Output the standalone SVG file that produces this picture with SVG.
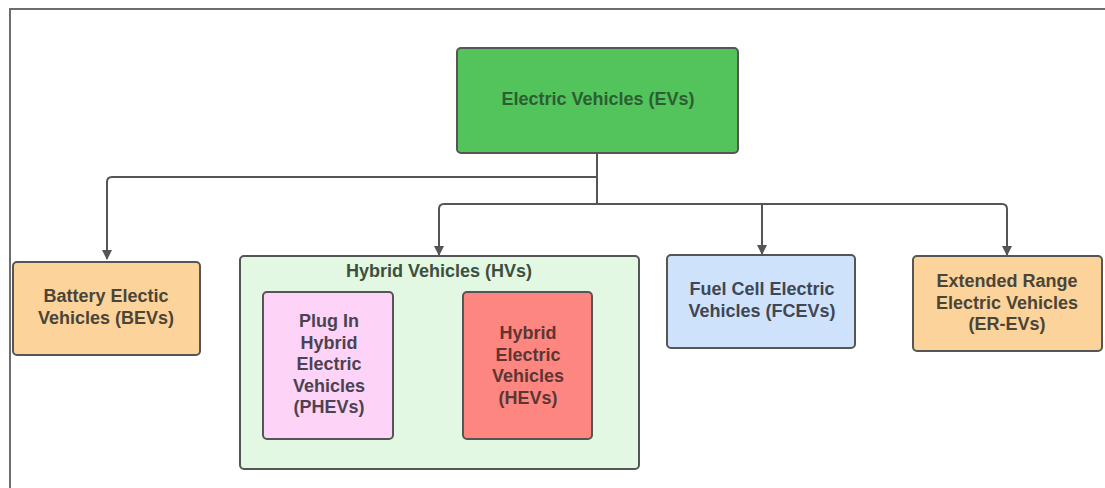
<svg xmlns="http://www.w3.org/2000/svg" width="1105" height="488" viewBox="0 0 1105 488">
<style>
.box{stroke:#555;stroke-width:2}
.t{font-family:"Liberation Sans",Arial,sans-serif;font-weight:bold;font-size:18px;text-anchor:middle;dominant-baseline:central}
.conn{fill:none;stroke:#555;stroke-width:2}
</style>
<defs>
<marker id="arr" viewBox="0 0 10 10" refX="9" refY="5" markerWidth="5" markerHeight="5" orient="auto">
<path d="M0,0 L10,5 L0,10 z" fill="#555"/>
</marker>
</defs>
<rect width="1105" height="488" fill="#fff"/>
<g id="frame">
<path d="M10,488 V9 H1105" fill="none" stroke="#6d6d6d" stroke-width="2"/>
</g>
<g id="connectors">
<path class="conn" d="M597,153 V204"/>
<path class="conn" d="M597,177 H112 Q107,177 107,182 V259" marker-end="url(#arr)"/>
<path class="conn" d="M597,204 H444 Q439,204 439,209 V255" marker-end="url(#arr)"/>
<path class="conn" d="M597,204 H1002 Q1007,204 1007,209 V255" marker-end="url(#arr)"/>
<path class="conn" d="M762,204 V254" marker-end="url(#arr)"/>
</g>
<g id="ev">
<rect class="box" x="457" y="48" width="281" height="105" rx="4" fill="#53c35c"/>
<text class="t" x="598" y="99" fill="#2c5e31" font-size="19">Electric Vehicles (EVs)</text>
</g>
<g id="bev">
<rect class="box" x="13" y="262" width="187" height="93" rx="4" fill="#fcd49b"/>
<text class="t" fill="#4a4538"><tspan x="106" y="296">Battery Electic</tspan><tspan x="106" y="318">Vehicles (BEVs)</tspan></text>
</g>
<g id="hv">
<rect class="box" x="240" y="256" width="399" height="213" rx="4" fill="#e3f8e2"/>
<text class="t" x="439" y="271" fill="#3d4f3e">Hybrid Vehicles (HVs)</text>
</g>
<g id="phev">
<rect class="box" x="263" y="292" width="130" height="147" rx="4" fill="#fdd4f8"/>
<text class="t" fill="#4b4351"><tspan x="329" y="321">Plug In</tspan><tspan x="329" y="342.5">Hybrid</tspan><tspan x="329" y="364">Electric</tspan><tspan x="329" y="385.5">Vehicles</tspan><tspan x="329" y="407">(PHEVs)</tspan></text>
</g>
<g id="hev">
<rect class="box" x="463" y="292" width="129" height="147" rx="4" fill="#fd8780"/>
<text class="t" fill="#5e3533"><tspan x="528" y="333">Hybrid</tspan><tspan x="528" y="354.5">Electric</tspan><tspan x="528" y="376">Vehicles</tspan><tspan x="528" y="397.5">(HEVs)</tspan></text>
</g>
<g id="fcev">
<rect class="box" x="667" y="255" width="188" height="93" rx="4" fill="#cfe2fb"/>
<text class="t" fill="#3f4654"><tspan x="762" y="289">Fuel Cell Electric</tspan><tspan x="762" y="311">Vehicles (FCEVs)</tspan></text>
</g>
<g id="erev">
<rect class="box" x="913" y="256" width="189" height="95" rx="4" fill="#fcd49b"/>
<text class="t" fill="#4a4538"><tspan x="1007" y="281">Extended Range</tspan><tspan x="1007" y="302.5">Electric Vehicles</tspan><tspan x="1007" y="324">(ER-EVs)</tspan></text>
</g>
</svg>
